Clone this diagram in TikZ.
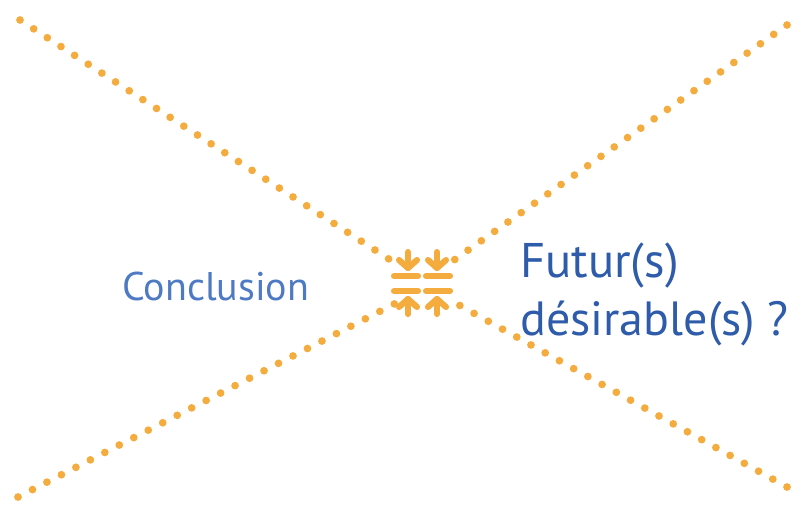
\documentclass[tikz,border=0pt]{standalone}
\usepackage{fontspec}
\setmainfont{PT Sans}
\definecolor{dotorange}{RGB}{245,172,62}
\definecolor{lightblue}{RGB}{78,122,196}
\definecolor{deepblue}{RGB}{46,92,170}
\begin{document}
\begin{tikzpicture}[x=0.75pt,y=-0.75pt,
  dotline/.style={draw=dotorange, line width=5.8pt, line cap=round,
    dash pattern=on 0pt off 12.2pt},
  iconstroke/.style={draw=dotorange, line width=4.6pt, line cap=round, line join=round},
  label/.style={inner sep=0pt, anchor=base west}]
\useasboundingbox (0,0) rectangle (802,508);
% ends of the four dotted rays
\coordinate (tlA) at (20,20);   \coordinate (tlB) at (395,263);
\coordinate (trA) at (787,25);  \coordinate (trB) at (447,265);
\coordinate (blA) at (18,497);  \coordinate (blB) at (400,301);
\coordinate (brA) at (787,487); \coordinate (brB) at (450,300);
\draw[dotline] (tlA) -- (tlB);
\draw[dotline] (trA) -- (trB);
\draw[dotline] (blA) -- (blB);
\draw[dotline] (brA) -- (brB);
% compress icon in the middle: two halves, arrows pointing at the bars
\foreach \cx/\xl/\xr in {408/394/418, 437/426/450}{
  \draw[iconstroke] (\xl,276) -- (\xr,276);
  \draw[iconstroke] (\cx,252) -- (\cx,268);
  \draw[iconstroke] (\cx-9,260) -- (\cx,268) -- (\cx+9,260);
  \draw[iconstroke] (\xl,291) -- (\xr,291);
  \draw[iconstroke] (\cx,314) -- (\cx,299);
  \draw[iconstroke] (\cx-9,307) -- (\cx,299) -- (\cx+9,307);
}
% texts
\node[label, text=lightblue, font=\fontsize{30}{35}\selectfont] (conc) at (122,300) {Conclusion};
\node[label, text=deepblue, font=\fontsize{36.5}{42}\selectfont] (fut) at (520,277) {Futur(s)};
\node[label, text=deepblue, font=\fontsize{36}{42}\selectfont] (des) at (520,335) {désirable(s) ?};
\end{tikzpicture}
\end{document}
